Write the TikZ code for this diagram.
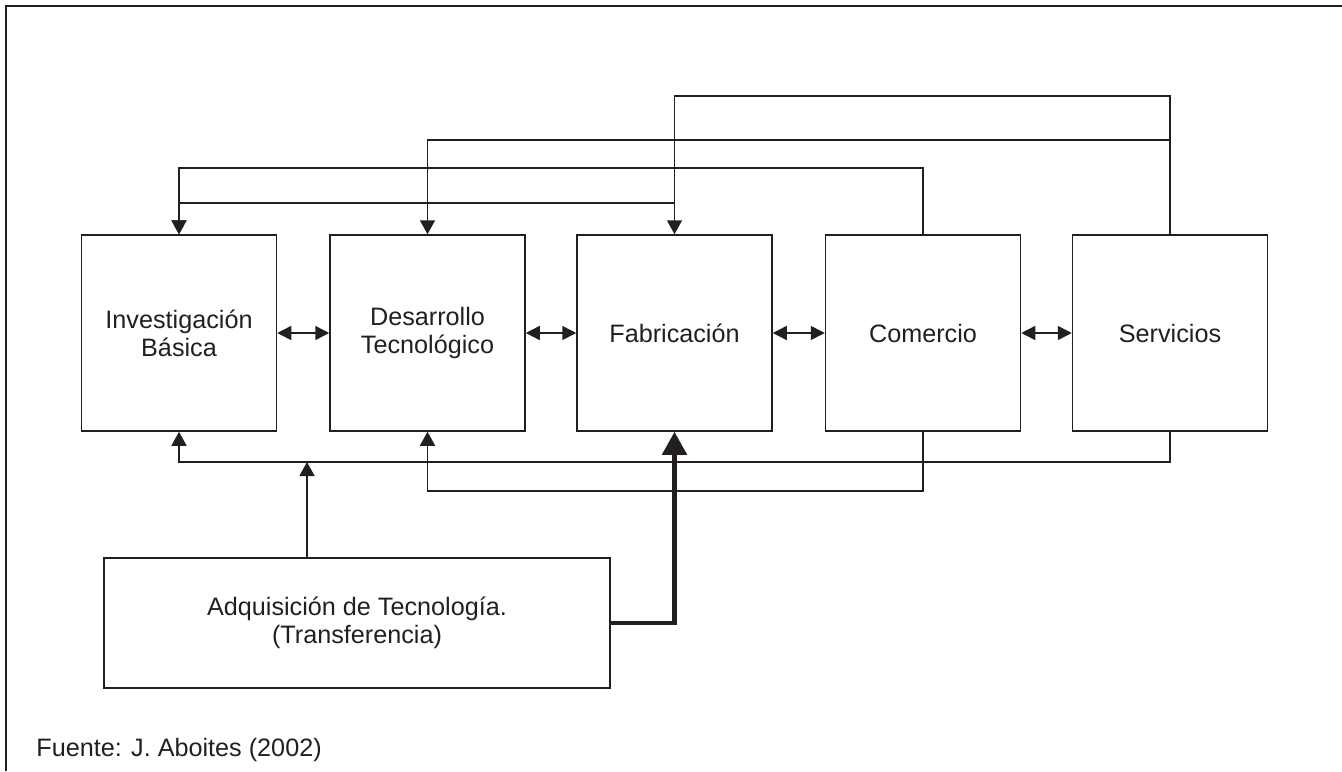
\documentclass[tikz,border=0pt]{standalone}
\usepackage{fontspec}
\setmainfont{Liberation Sans}
\usetikzlibrary{arrows.meta}
\definecolor{ink}{HTML}{231F20}
\begin{document}
\begin{tikzpicture}[x=0.5pt,y=-0.5pt,
  every node/.style={font=\fontsize{12.6pt}{14pt}\selectfont, text=ink},
  stage/.style={draw=ink, line width=0.75pt, minimum width=97.5pt, minimum height=98pt,
    inner sep=0pt, align=center},
  wire/.style={draw=ink, line width=0.75pt},
  arr/.style={wire, -{Triangle[length=7pt,width=7.5pt]}},
  dbl/.style={wire, {Triangle[length=7pt,width=7pt]}-{Triangle[length=7pt,width=7pt]}},
  heavy/.style={draw=ink, line width=2.4pt, line join=miter, -{Triangle[length=11.5pt,width=12pt]}}]
  \useasboundingbox (0,0) rectangle (1342,771);

  % outer frame: top and left rules only
  \draw[ink, line width=1.3pt] (6,771) -- (6,6) -- (1342,6);

  % the five stages
  \node[stage] (inv)  at (179,333)    {Investigación\\Básica};
  \node[stage] (des)  at (427.5,333)  {Desarrollo\\Tecnológico};
  \node[stage] (fab)  at (674.5,333)  {Fabricación};
  \node[stage] (com)  at (923,333)    {Comercio};
  \node[stage] (serv) at (1170,333)   {Servicios};

  % technology acquisition
  \node[stage, minimum width=253pt, minimum height=65pt] (adq) at (357,623)
    {Adquisición de Tecnología.\\(Transferencia)};

  % source
  \node[anchor=base west, inner sep=0pt] (src) at (36,756) {Fuente: J. Aboites (2002)};

  % routing levels
  \coordinate (t1) at (0,96);
  \coordinate (t2) at (0,140);
  \coordinate (t3) at (0,168);
  \coordinate (t4) at (0,203);
  \coordinate (b1) at (0,462);
  \coordinate (b2) at (0,491);

  % links between neighbouring stages
  \draw[dbl] (inv.east) -- (des.west);
  \draw[dbl] (des.east) -- (fab.west);
  \draw[dbl] (fab.east) -- (com.west);
  \draw[dbl] (com.east) -- (serv.west);

  % feedback over the top
  \draw[arr] (serv.north) |- (t1 -| fab.north) -- (fab.north);
  \draw[arr] (serv.north) |- (t2 -| des.north) -- (des.north);
  \draw[arr] (com.north) |- (t3 -| inv.north) -- (inv.north);
  \draw[arr] (fab.north) |- (t4 -| inv.north) -- (inv.north);

  % feedback underneath
  \draw[arr] (serv.south) |- (b1 -| inv.south) -- (inv.south);
  \draw[arr] (com.south) |- (b2 -| des.south) -- (des.south);

  % acquisition feeding the system
  \coordinate (adqtop) at ([xshift=-25pt]adq.north);
  \draw[arr] (adqtop) -- (adqtop |- b1);
  \draw[heavy] (adq.east) -| (fab.south);
\end{tikzpicture}
\end{document}
